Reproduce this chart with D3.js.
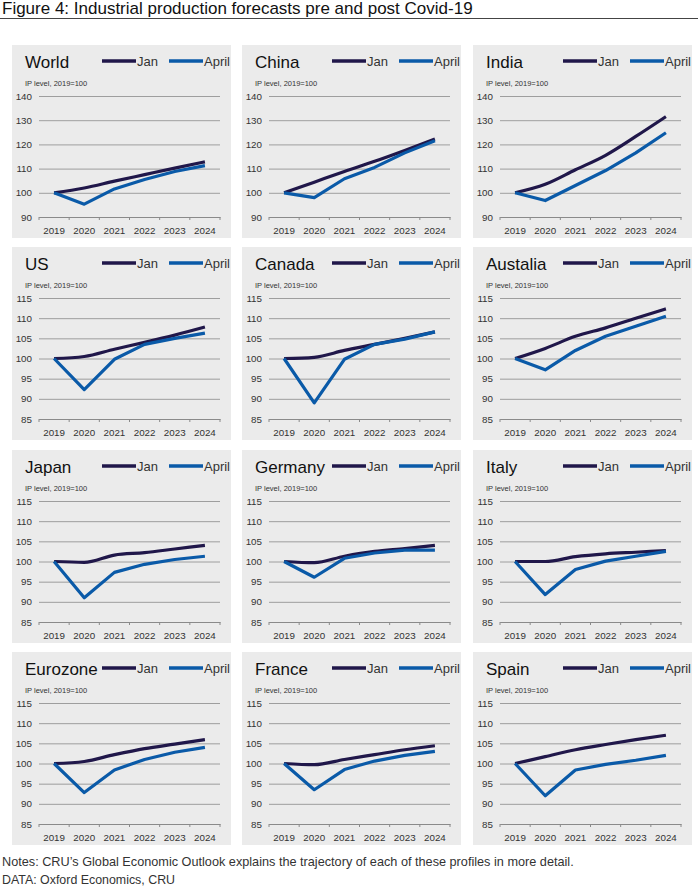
<!DOCTYPE html>
<html>
<head>
<meta charset="utf-8">
<script src="https://cdn.jsdelivr.net/npm/d3@7"></script>
<style>
  body { margin: 0; background: #fff; }
  text { font-family: "Liberation Sans", Arial, sans-serif; }
</style>
</head>
<body>
<svg width="698" height="888"></svg>
<script>
let years = ['2019', '2020', '2021', '2022', '2023', '2024']
let regions = ['World', 'China', 'India', 'US', 'Canada', 'Austalia',
  'Japan', 'Germany', 'Italy', 'Eurozone', 'France', 'Spain']

// forecasts made in January (pre Covid-19)
let janValues = [
  [100, 102.0, 104.8, 107.5, 110.2, 112.8],
  [100, 104.4, 108.8, 113.0, 117.5, 122.2],
  [100, 103.5, 109.5, 115.5, 123.3, 131.5],
  [100, 100.5, 102.3, 104.0, 105.8, 107.8],
  [100, 100.3, 102.0, 103.5, 105.0, 106.6],
  [100, 102.5, 105.5, 107.6, 110.0, 112.3],
  [100, 99.8, 101.6, 102.2, 103.1, 104.0],
  [100, 99.7, 101.3, 102.5, 103.2, 104.0],
  [100, 100.0, 101.2, 101.9, 102.3, 102.7],
  [100, 100.5, 102.2, 103.7, 104.8, 105.9],
  [100, 99.7, 101.0, 102.2, 103.4, 104.4],
  [100, 101.7, 103.4, 104.7, 105.9, 107.0]
]

// forecasts made in April (post Covid-19)
let aprilValues = [
  [100, 95.3, 101.6, 105.5, 108.8, 111.2],
  [100, 98.0, 105.8, 110.5, 116.5, 121.5],
  [100, 96.8, 103.0, 109.2, 116.5, 124.8],
  [100, 92.3, 99.8, 103.5, 105.0, 106.3],
  [100, 89.0, 99.8, 103.5, 104.8, 106.6],
  [100, 97.2, 102.0, 105.5, 108.0, 110.5],
  [100, 91.0, 97.3, 99.3, 100.5, 101.3],
  [100, 96.1, 100.8, 102.1, 102.8, 102.8],
  [100, 91.8, 98.0, 100.1, 101.3, 102.5],
  [100, 92.8, 98.4, 101.0, 102.8, 104.0],
  [100, 93.5, 98.5, 100.6, 102.0, 103.0],
  [100, 92.0, 98.4, 99.8, 100.8, 102.0]
]

let ticksTopRow = [90, 100, 110, 120, 130, 140]
let ticksOtherRows = [85, 90, 95, 100, 105, 110, 115]

let seriesNames = ['Jan', 'April']
let colors = { Jan: '#20174a', April: '#0a5aa8' }

let svg = d3.select('svg')

let colX = [12, 242, 473]
let rowY = [45, 247, 450, 652]
let panelW = 219
let panelH = 193
let plotLeft = 27
let plotRight = 208
let plotTop = 51
let plotBottom = 172

// title + rule
svg.append('text')
  .attr('x', 2)
  .attr('y', 14)
  .attr('font-size', 17)
  .attr('fill', '#111')
  .text('Figure 4: Industrial production forecasts pre and post Covid-19')

svg.append('line')
  .attr('x1', 0).attr('x2', 698)
  .attr('y1', 18.5).attr('y2', 18.5)
  .attr('stroke', '#444')
  .attr('stroke-width', 1)

let x = d3.scaleBand().domain(years).range([plotLeft, plotRight])

regions.forEach((name, i) => {
  let row = Math.floor(i / 3)
  let col = i % 3
  let ticks = row === 0 ? ticksTopRow : ticksOtherRows
  let y = d3.scaleLinear()
    .domain(d3.extent(ticks))
    .range([plotBottom, plotTop])

  let g = svg.append('g')
    .attr('transform', `translate(${colX[col]},${rowY[row]})`)

  g.append('rect')
    .attr('width', panelW)
    .attr('height', panelH)
    .attr('fill', '#ebebeb')

  // gridlines + y labels
  let yAxis = g.append('g')
    .attr('transform', `translate(${plotLeft},0)`)
    .call(d3.axisLeft(y).tickValues(ticks).tickSize(-(plotRight - plotLeft)).tickPadding(7))
  yAxis.select('.domain').remove()
  yAxis.selectAll('.tick line').attr('stroke', '#8a8a8a').attr('stroke-width', 0.8)
  yAxis.selectAll('.tick text')
    .attr('font-size', 9.8)
    .attr('fill', '#333')
    .attr('font-family', '"Liberation Sans", Arial, sans-serif')

  // x axis with ticks between categories
  let xAxis = g.append('g')
    .attr('transform', `translate(0,${plotBottom})`)
    .call(d3.axisBottom(x).tickSize(0).tickPadding(10))
  xAxis.select('.domain').attr('stroke', '#8a8a8a')
  xAxis.selectAll('.tick text')
    .attr('font-size', 9.8)
    .attr('fill', '#333')
    .attr('font-family', '"Liberation Sans", Arial, sans-serif')
  xAxis.selectAll('.sep')
    .data(d3.range(years.length + 1))
    .enter()
    .append('line')
    .attr('x1', d => plotLeft + d * x.step())
    .attr('x2', d => plotLeft + d * x.step())
    .attr('y1', 0)
    .attr('y2', 3)
    .attr('stroke', '#8a8a8a')

  // lines: Jan is smoothed, April keeps the sharp 2020 dip
  let lineFor = curve => d3.line()
    .x((d, j) => x(years[j]) + x.bandwidth() / 2)
    .y(d => y(d))
    .curve(curve)
  let curves = [d3.curveMonotoneX, d3.curveLinear]

  let series = [janValues[i], aprilValues[i]]
  series.forEach((vals, k) => {
    g.append('path')
      .datum(vals)
      .attr('fill', 'none')
      .attr('stroke', colors[seriesNames[k]])
      .attr('stroke-width', 3.2)
      .attr('stroke-linejoin', 'round')
      .attr('d', lineFor(curves[k]))
  })

  // panel title
  g.append('text')
    .attr('x', 13)
    .attr('y', 23)
    .attr('font-size', 17)
    .attr('fill', '#111')
    .text(name)

  // legend
  let legendX = [90, 157]
  seriesNames.forEach((s, k) => {
    g.append('line')
      .attr('x1', legendX[k]).attr('x2', legendX[k] + 34)
      .attr('y1', 16).attr('y2', 16)
      .attr('stroke', colors[s])
      .attr('stroke-width', 3.5)
    g.append('text')
      .attr('x', legendX[k] + 35)
      .attr('y', 20.5)
      .attr('font-size', 13)
      .attr('fill', '#333')
      .text(s)
  })

  g.append('text')
    .attr('x', 13)
    .attr('y', 41)
    .attr('font-size', 7.5)
    .attr('fill', '#333')
    .text('IP level, 2019=100')
})

// footer
svg.append('text')
  .attr('x', 2)
  .attr('y', 866)
  .attr('font-size', 12.7)
  .attr('fill', '#333')
  .text('Notes: CRU\u2019s Global Economic Outlook explains the trajectory of each of these profiles in more detail.')

svg.append('text')
  .attr('x', 2)
  .attr('y', 884)
  .attr('font-size', 12.4)
  .attr('fill', '#333')
  .text('DATA: Oxford Economics, CRU')
</script>
</body>
</html>
